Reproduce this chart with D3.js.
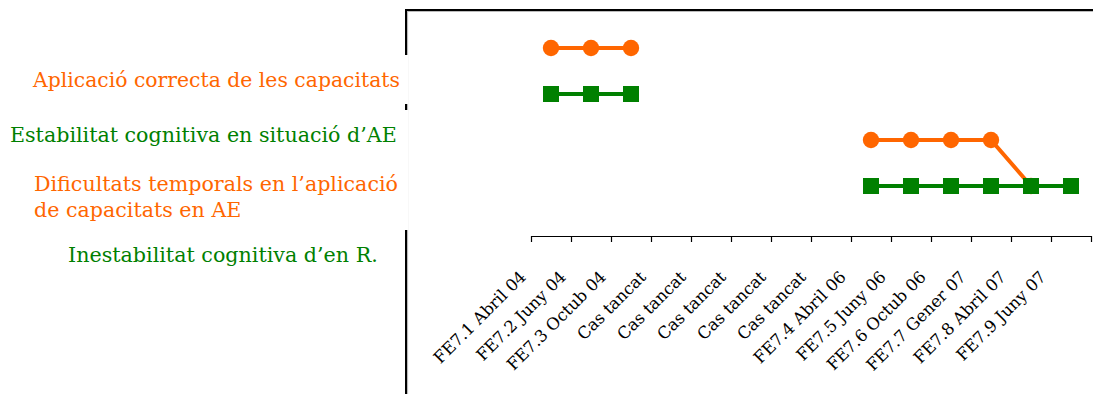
<!DOCTYPE html>
<html>
<head>
<meta charset="utf-8">
<script src="https://cdn.jsdelivr.net/npm/d3@7/dist/d3.min.js"></script>
<style>
  html, body { margin: 0; padding: 0; background: #fff; overflow: hidden; }
  svg { display: block; }
</style>
</head>
<body>
<script>
// ---- data ----
const categories = ["FE7.1 Abril 04", "FE7.2 Juny 04", "FE7.3 Octub 04",
  "Cas tancat", "Cas tancat", "Cas tancat", "Cas tancat", "Cas tancat",
  "FE7.4 Abril 06", "FE7.5 Juny 06", "FE7.6 Octub 06", "FE7.7 Gener 07",
  "FE7.8 Abril 07", "FE7.9 Juny 07"];
const orangeValues = [4, 4, 4, null, null, null, null, null, 2, 2, 2, 2, 1, null];
const greenValues  = [3, 3, 3, null, null, null, null, null, 1, 1, 1, 1, 1, 1];
const levelLabels = [
  { lines: ["Aplicació correcta de les capacitats"], color: "orange" },
  { lines: ["Estabilitat cognitiva en situació d’AE"], color: "green" },
  { lines: ["Dificultats temporals en l’aplicació", "de capacitats en AE"], color: "orange" },
  { lines: ["Inestabilitat cognitiva d’en R."], color: "green" }
];
const colors = { orange: "#FF6600", green: "#008000" };

// ---- layout ----
const W = 1093, H = 394;
const svg = d3.select("body").append("svg").attr("width", W).attr("height", H);
const FONT = "'DejaVu Serif', 'Liberation Serif', serif";

const x = d3.scaleLinear().domain([0, categories.length]).range([531, 1091]);
const y = d3.scaleLinear().domain([0, 5]).range([232, 2]);
const cx = i => x(i + 0.5);

// frame: top and left borders (with light shadow)
const frameLeft = 406, frameTop = 10;
svg.append("line").attr("x1", frameLeft).attr("x2", W).attr("y1", frameTop + 1.5).attr("y2", frameTop + 1.5)
  .attr("stroke", "#bbb").attr("stroke-width", 1.2);
svg.append("line").attr("x1", frameLeft + 1.5).attr("x2", frameLeft + 1.5).attr("y1", frameTop).attr("y2", H)
  .attr("stroke", "#bbb").attr("stroke-width", 1.2);
svg.append("line").attr("x1", frameLeft - 1).attr("x2", W).attr("y1", frameTop).attr("y2", frameTop)
  .attr("stroke", "#000").attr("stroke-width", 2);
svg.append("line").attr("x1", frameLeft).attr("x2", frameLeft).attr("y1", frameTop).attr("y2", H)
  .attr("stroke", "#000").attr("stroke-width", 2);

// x axis with ticks at category boundaries
const axisY = 236;
svg.append("g").attr("transform", `translate(0,${axisY})`)
  .call(d3.axisBottom(x).tickValues(d3.range(categories.length + 1)).tickFormat("").tickSize(6).tickSizeOuter(0))
  .call(g => g.selectAll("path, line").attr("stroke", "#000").attr("stroke-width", 1.2));

// fit a font size so that a sample text has the wanted width
function fitSize(sample, target, base, weight) {
  const t = svg.append("text").attr("font-family", FONT).attr("font-size", base)
    .attr("font-weight", weight || "normal").text(sample);
  const w = t.node().getComputedTextLength();
  t.remove();
  return base * target / w;
}

// category labels rotated -45
const tickFont = fitSize("FE7.3 Octub 04", 132, 16);
svg.append("g").selectAll("text").data(categories).join("text")
  .attr("transform", (d, i) => `translate(${cx(i) - 24},${axisY + 42}) rotate(-45)`)
  .attr("text-anchor", "end")
  .attr("font-family", FONT).attr("font-size", tickFont).attr("fill", "#000")
  .text(d => d);

// series
const line = d3.line().defined(d => d.v != null).x(d => cx(d.i)).y(d => y(d.v));
function drawSeries(values, color, shape) {
  const pts = values.map((v, i) => ({ v, i }));
  svg.append("path").datum(pts).attr("d", line).attr("fill", "none")
    .attr("stroke", color).attr("stroke-width", 4);
  const defined = pts.filter(d => d.v != null);
  if (shape === "circle") {
    svg.append("g").selectAll("circle").data(defined).join("circle")
      .attr("cx", d => cx(d.i)).attr("cy", d => y(d.v)).attr("r", 8.2).attr("fill", color);
  } else {
    svg.append("g").selectAll("rect").data(defined).join("rect")
      .attr("x", d => cx(d.i) - 8).attr("y", d => y(d.v) - 8).attr("width", 16).attr("height", 16)
      .attr("fill", color);
  }
}
drawSeries(orangeValues, colors.orange, "circle");
drawSeries(greenValues, colors.green, "square");

// level label boxes (white background covering the left border, like the original text boxes)
const boxes = [
  { x: 30, y: 55, w: 378, h: 49, tx: 33, base: [87], width: 367 },
  { x: 5, y: 110, w: 403, h: 120, tx: 10, base: [142], width: 387 },
  { x: 30, y: 165, w: 378, h: 60, tx: 34, base: [191, 217], width: 364 },
  { x: 60, y: 236, w: 330, h: 30, tx: 68, base: [262], width: 310 }
];
boxes.forEach(b => {
  svg.append("rect").attr("x", b.x).attr("y", b.y).attr("width", b.w).attr("height", b.h).attr("fill", "#fff");
});
levelLabels.forEach((lab, k) => {
  const b = boxes[k];
  const size = fitSize(lab.lines[0], b.width, 20);
  lab.lines.forEach((ln, j) => {
    svg.append("text").attr("x", b.tx).attr("y", b.base[j])
      .attr("font-family", FONT).attr("font-size", size).attr("fill", colors[lab.color]).text(ln);
  });
});

// cut-off title fragment at the bottom edge (only its top shows, as in the original)
svg.append("text").attr("x", 143).attr("y", 411).attr("font-family", FONT)
  .attr("font-size", 20).attr("font-weight", "bold").attr("fill", "#000").text("Tendència de l’evolució");
</script>
</body>
</html>
